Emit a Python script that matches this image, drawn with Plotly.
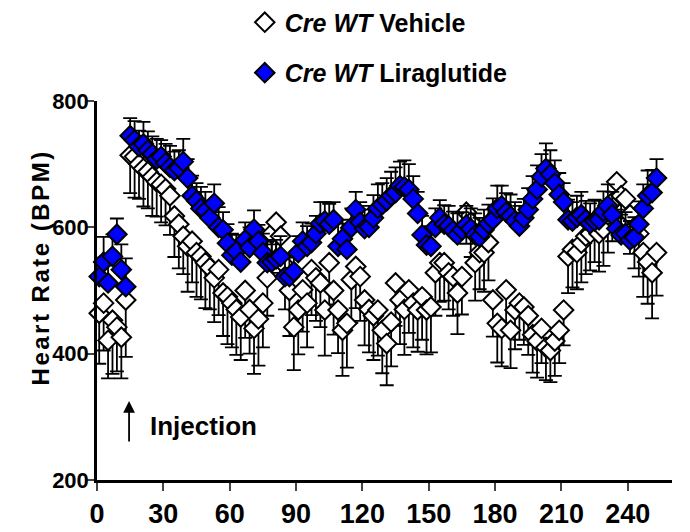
import plotly.graph_objects as go

# ---- data (minutes, heart rate BPM, SEM) ----
time_pre = [1, 3, 5, 7, 9, 11, 13]
time_post = list(range(15, 254, 2))

vehicle_pre = [464, 480, 421, 453, 442, 426, 485]
vehicle_pre_err = [80, 75, 60, 85, 70, 65, 90]
vehicle_post = [714, 712, 700, 693, 688, 680, 672, 668, 661, 650,
                618, 605, 586, 570, 578, 560, 554, 544, 536, 520,
                533, 496, 490, 480, 470, 458, 500, 470, 440, 455,
                480, 520, 590, 608, 586, 540, 500, 442, 469, 501,
                480, 533, 520, 512, 469, 544, 500, 469, 437, 448,
                517, 538, 522, 485, 470, 460, 469, 437, 416, 450,
                512, 485, 470, 501, 480, 469, 490, 469, 474, 528,
                544, 544, 528, 522, 496, 522, 624, 608, 544, 560,
                560, 576, 485, 448, 440, 501, 437, 469, 480, 474,
                460, 430, 420, 440, 410, 405, 420, 437, 469, 554,
                565, 560, 575, 586, 590, 600, 590, 597, 620, 640,
                672, 650, 645, 620, 600, 590, 560, 545, 528, 560]
vehicle_post_err = [60, 65, 55, 60, 58, 62, 55, 60, 58, 62,
                    65, 70, 60, 72, 65, 70, 68, 72, 66, 70,
                    72, 68, 75, 70, 72, 68, 75, 70, 72, 74,
                    70, 60, 62, 58, 65, 70, 72, 68, 70, 66,
                    70, 72, 68, 70, 72, 66, 70, 68, 72, 70,
                    68, 66, 70, 72, 68, 70, 72, 68, 66, 70,
                    68, 70, 72, 68, 70, 66, 68, 70, 72, 68,
                    62, 60, 58, 62, 65, 60, 50, 55, 60, 58,
                    62, 60, 58, 62, 60, 64, 60, 62, 58, 60,
                    62, 60, 58, 55, 52, 50, 55, 52, 56, 58,
                    60, 58, 62, 60, 58, 55, 60, 58, 60, 62,
                    58, 55, 60, 62, 65, 68, 70, 66, 72, 68]

lira_pre = [522, 545, 512, 554, 589, 533, 506]
lira_pre_err = [30, 40, 28, 35, 25, 40, 45]
lira_post = [745, 738, 728, 732, 722, 716, 708, 712, 702, 695,
             690, 694, 704, 678, 650, 642, 630, 626, 615, 638,
             600, 596, 575, 556, 562, 545, 580, 568, 597, 578,
             560, 544, 545, 550, 554, 522, 522, 530, 560, 578,
             570, 576, 590, 606, 610, 605, 612, 570, 582, 565,
             600, 628, 608, 598, 600, 615, 630, 636, 642, 650,
             655, 666, 664, 660, 645, 622, 588, 572, 570, 600,
             615, 605, 602, 595, 588, 596, 604, 598, 588, 585,
             596, 606, 612, 630, 634, 624, 618, 610, 602, 615,
             628, 645, 660, 680, 693, 684, 670, 652, 640, 612,
             610, 616, 620, 612, 606, 610, 612, 625, 634, 620,
             598, 588, 590, 580, 584, 605, 630, 650, 655, 678]
lira_post_err = [28, 30, 25, 35, 30, 28, 32, 26, 30, 34,
                 30, 28, 36, 30, 32, 28, 34, 30, 26, 30,
                 32, 28, 30, 34, 26, 30, 28, 32, 30, 26,
                 30, 34, 28, 30, 32, 36, 30, 28, 26, 30,
                 32, 30, 28, 34, 30, 32, 28, 36, 30, 34,
                 30, 28, 32, 30, 34, 36, 38, 34, 36, 38,
                 40, 38, 42, 40, 36, 34, 30, 28, 32, 30,
                 28, 30, 32, 30, 34, 28, 30, 32, 34, 30,
                 32, 30, 34, 36, 32, 30, 34, 30, 32, 30,
                 34, 36, 38, 36, 40, 38, 36, 34, 30, 32,
                 30, 34, 36, 30, 32, 34, 30, 32, 34, 36,
                 30, 32, 34, 30, 32, 36, 38, 40, 36, 30]

x_ticks = [0, 30, 60, 90, 120, 150, 180, 210, 240]
y_ticks = [200, 400, 600, 800]

time_all = time_pre + time_post
vehicle = vehicle_pre + vehicle_post
vehicle_err = vehicle_pre_err + vehicle_post_err
lira = lira_pre + lira_post
lira_err = lira_pre_err + lira_post_err

FONT = "Arial, Liberation Sans, sans-serif"
NARROW = "Arial Narrow, Liberation Sans Narrow, Arial, Liberation Sans, sans-serif"

fig = go.Figure()
fig.add_trace(go.Scatter(
    x=time_all, y=vehicle, mode="markers", name="<i>Cre WT</i> Vehicle",
    legendgroup="a", cliponaxis=False,
    marker=dict(symbol="diamond", size=15, color="white",
                line=dict(color="black", width=2)),
    error_y=dict(type="data", symmetric=False, array=[0] * len(vehicle_err),
                 arrayminus=vehicle_err, color="black", thickness=1.8, width=7),
))
fig.add_trace(go.Scatter(
    x=time_all, y=lira, mode="markers", name="<i>Cre WT</i> Liraglutide",
    legendgroup="b", cliponaxis=False,
    marker=dict(symbol="diamond", size=15, color="#0000FF",
                line=dict(color="black", width=2)),
    error_y=dict(type="data", symmetric=False, array=lira_err,
                 arrayminus=[0] * len(lira_err), color="black", thickness=1.8, width=7),
))

fig.add_annotation(x=14.5, y=325, xref="x", yref="y", text="", showarrow=True,
                   ax=0, ay=42, arrowhead=2, arrowsize=1.3, arrowwidth=1.8,
                   arrowcolor="black")
fig.add_annotation(x=23.0, y=285, xref="x", yref="y", text="Injection",
                   showarrow=False, xanchor="left", yanchor="middle",
                   font=dict(family=FONT, size=26, color="black", weight="bold"))
fig.add_annotation(x=-0.098, y=0.56, xref="paper", yref="paper",
                   xanchor="center", yanchor="middle",
                   text='<span style="letter-spacing:2.5px">Heart Rate (BPM)</span>',
                   textangle=-90, showarrow=False,
                   font=dict(family=FONT, size=24, color="black", weight="bold"))

fig.update_layout(
    width=682, height=524,
    margin=dict(l=89, r=18, t=93, b=52, autoexpand=False),
    paper_bgcolor="white", plot_bgcolor="white",
    font=dict(family=FONT, color="black"),
    showlegend=True,
    legend=dict(x=0.257, y=1.268, xanchor="left", yanchor="top",
                font=dict(family=FONT, size=25, color="black", weight="bold"),
                tracegroupgap=15, bgcolor="rgba(0,0,0,0)"),
    xaxis=dict(range=[0, 260], tickvals=x_ticks, ticks="outside", ticklen=8,
               tickwidth=2, showline=True, linecolor="black", linewidth=2.5,
               showgrid=False, zeroline=False, automargin=False,
               tickfont=dict(family=NARROW, size=27, color="black", weight="bold")),
    yaxis=dict(range=[200, 800], tickvals=y_ticks, ticks="outside", ticklen=7,
               tickwidth=2, showline=True, linecolor="black", linewidth=2.5,
               showgrid=False, zeroline=False, automargin=False,
               ticklabelstandoff=-6,
               tickfont=dict(family=NARROW, size=22, color="black", weight="bold")),
)

fig.write_html("out.html")
